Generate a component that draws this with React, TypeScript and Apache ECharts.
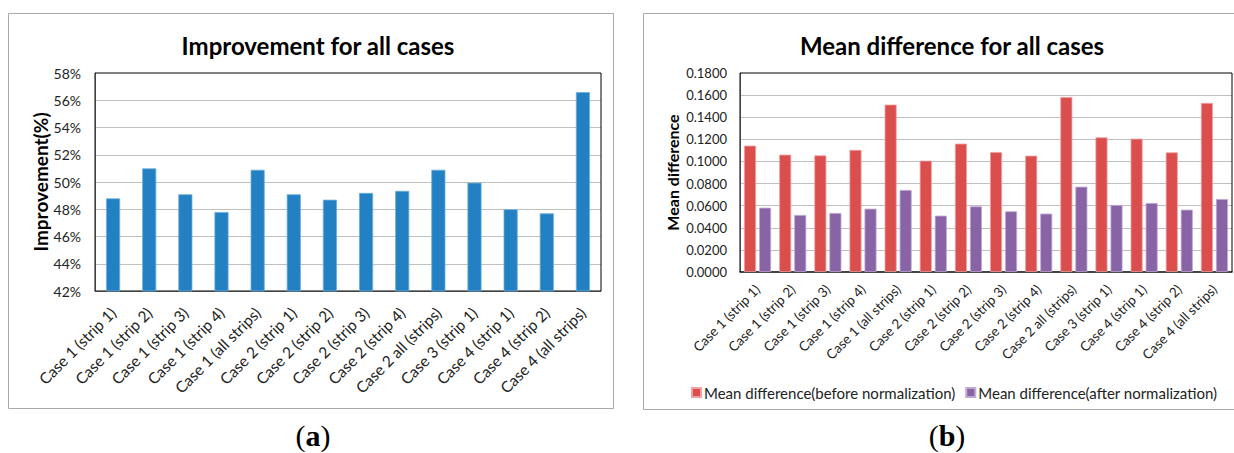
import React, { useEffect, useRef } from "react";
import * as echarts from "echarts";

const categories = [
  "Case 1 (strip 1)",
  "Case 1 (strip 2)",
  "Case 1 (strip 3)",
  "Case 1 (strip 4)",
  "Case 1 (all strips)",
  "Case 2 (strip 1)",
  "Case 2 (strip 2)",
  "Case 2 (strip 3)",
  "Case 2 (strip 4)",
  "Case 2 all (strips)",
  "Case 3 (strip 1)",
  "Case 4 (strip 1)",
  "Case 4 (strip 2)",
  "Case 4 (all strips)",
];

const improvement = [48.8, 51.0, 49.1, 47.8, 50.9, 49.1, 48.7, 49.2, 49.35, 50.9, 49.95, 48.0, 47.7, 56.6];

const beforeNorm = [0.1143, 0.1061, 0.1055, 0.1104, 0.1514, 0.1007, 0.1161, 0.1085, 0.1052, 0.1583, 0.1218, 0.1206, 0.1082, 0.1529];
const afterNorm = [0.0582, 0.0516, 0.0534, 0.0573, 0.0742, 0.051, 0.0594, 0.0549, 0.0528, 0.0772, 0.0606, 0.0624, 0.0564, 0.066];

const seriesNames = ["Mean difference(before normalization)", "Mean difference(after normalization)"];

const FONT = "Lato, 'Open Sans', sans-serif";
const SERIF = "'Liberation Serif', 'DejaVu Serif', serif";

const gA = { left: 95, top: 73, width: 506, height: 218 };
const gB = { left: 740, top: 73, width: 492, height: 199 };

export default function App() {
  const ref = useRef<HTMLDivElement>(null);
  useEffect(() => {
    const chart = echarts.init(ref.current!, null, { renderer: "svg" });
    const frame = (g: any) => ({
      type: "rect",
      shape: { x: g.left, y: g.top, width: g.width, height: g.height },
      style: { fill: "none", stroke: "#000", lineWidth: 1 },
      z: 1,
      silent: true,
    });
    const panelLabel = (letter: string, x: number) => ({
      type: "text",
      x,
      y: 435,
      style: {
        text: "(" + "{b|" + letter + "})",
        align: "center",
        verticalAlign: "middle",
        font: "30px " + SERIF,
        fill: "#000",
        rich: { b: { font: "bold 30px " + SERIF, fill: "#000" } },
      },
    });
    chart.setOption({
      animation: false,
      backgroundColor: "#fff",
      textStyle: { fontFamily: FONT },
      title: [
        {
          text: "Improvement for all cases",
          left: 313,
          top: 28,
          textAlign: "center",
          textStyle: { fontFamily: FONT, fontWeight: "bold", fontSize: 24, color: "#000" },
        },
        {
          text: "Mean difference for all cases",
          left: 947,
          top: 28,
          textAlign: "center",
          textStyle: { fontFamily: FONT, fontWeight: "bold", fontSize: 24, color: "#000" },
        },
      ],
      legend: {
        left: 686,
        top: 380,
        itemWidth: 9,
        itemHeight: 9,
        itemGap: 10,
        icon: "rect",
        textStyle: { fontFamily: FONT, fontSize: 15, color: "#222", padding: [0, 0, 0, -2] },
        data: seriesNames,
      },
      grid: [
        { ...gA, containLabel: false },
        { ...gB, containLabel: false },
      ],
      xAxis: [
        {
          type: "category",
          gridIndex: 0,
          data: categories,
          axisTick: { show: false },
          axisLine: { lineStyle: { color: "#888", width: 1 } },
          axisLabel: { rotate: 45, interval: 0, fontSize: 15.5, color: "#222", fontFamily: FONT, margin: 19 },
        },
        {
          type: "category",
          gridIndex: 1,
          data: categories,
          axisTick: { show: false },
          axisLine: { lineStyle: { color: "#888", width: 2 } },
          axisLabel: { rotate: 45, interval: 0, fontSize: 13.5, color: "#222", fontFamily: FONT, margin: 15 },
        },
      ],
      yAxis: [
        {
          type: "value",
          gridIndex: 0,
          min: 42,
          max: 58,
          interval: 2,
          name: "Improvement(%)",
          nameLocation: "middle",
          nameGap: 45,
          nameTextStyle: { fontFamily: FONT, fontWeight: "bold", fontSize: 19, color: "#000" },
          axisLine: { show: true, lineStyle: { color: "#888" } },
          axisTick: { show: false },
          axisLabel: { formatter: (v: number) => v + "%", fontSize: 14, color: "#222", margin: 14, fontFamily: FONT },
          splitLine: { lineStyle: { color: "#BFBFBF", width: 1 }, showMaxLine: false },
        },
        {
          type: "value",
          gridIndex: 1,
          min: 0,
          max: 0.18,
          interval: 0.02,
          name: "Mean difference",
          nameLocation: "middle",
          nameGap: 60,
          nameTextStyle: { fontFamily: FONT, fontWeight: "bold", fontSize: 16, color: "#000" },
          axisLine: { show: true, lineStyle: { color: "#888" } },
          axisTick: { show: false },
          axisLabel: { formatter: (v: number) => v.toFixed(4), fontSize: 13, color: "#222", margin: 13, fontFamily: FONT },
          splitLine: { lineStyle: { color: "#BFBFBF", width: 1 }, showMaxLine: false },
        },
      ],
      series: [
        {
          type: "bar",
          name: "Improvement",
          xAxisIndex: 0,
          yAxisIndex: 0,
          data: improvement,
          barCategoryGap: "61%",
          itemStyle: { color: "#2380C2", borderColor: "#6FAEDC", borderWidth: 0.8 },
          z: 3,
        },
        {
          type: "bar",
          name: seriesNames[0],
          xAxisIndex: 1,
          yAxisIndex: 1,
          data: beforeNorm,
          barCategoryGap: "23%",
          barGap: "25%",
          itemStyle: { color: "#DB4E4E", borderColor: "#F0A0A0", borderWidth: 0.8 },
          z: 3,
        },
        {
          type: "bar",
          name: seriesNames[1],
          xAxisIndex: 1,
          yAxisIndex: 1,
          data: afterNorm,
          barCategoryGap: "23%",
          barGap: "25%",
          itemStyle: { color: "#8864A6", borderColor: "#C0A8D4", borderWidth: 0.8 },
          z: 3,
        },
      ],
      graphic: [
        {
          type: "rect",
          shape: { x: 8.5, y: 13.5, width: 605, height: 395 },
          style: { fill: "none", stroke: "#AAAAAA", lineWidth: 1 },
          silent: true,
        },
        {
          type: "rect",
          shape: { x: 643.5, y: 13.5, width: 600, height: 396 },
          style: { fill: "none", stroke: "#AAAAAA", lineWidth: 1 },
          silent: true,
        },
        frame(gA),
        frame(gB),
        panelLabel("a", 313),
        panelLabel("b", 947),
      ],
    });
    return () => chart.dispose();
  }, []);
  return (
    <div
      ref={ref}
      style={{ position: "fixed", left: 0, top: 0, width: 1234, height: 453 }}
    />
  );
}
